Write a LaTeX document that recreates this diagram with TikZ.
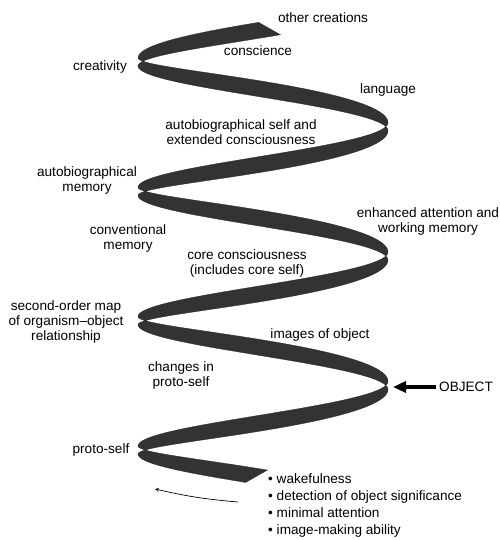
\documentclass[tikz,border=0pt]{standalone}
\usepackage{fontspec}
\setmainfont{Liberation Sans}
\usetikzlibrary{arrows.meta}
\begin{document}
\begin{tikzpicture}[>=stealth,x=1pt,y=-1pt,font=\fontsize{13.6}{15}\selectfont,
	ribbon/.style={fill=black!80,draw=black!85,line width=0.3pt},
	lbl/.style={inner sep=0pt,align=center}]
	\useasboundingbox (0,0) rectangle (499,540);
	% the spiral band, upper edge out and lower edge back
	\filldraw[ribbon] plot[domain=-92:1168,samples=420] ({263-125*cos(\x)},{450-\x/180*64.67+5*sin(\x)*(\x<1080)-(8+8*abs(sin(\x)))/2})
		-- plot[domain=1178:-82,samples=420] ({263-125*cos(\x)},{450-\x/180*64.67+5*sin(\x)*(\x<1080)+(8+8*abs(sin(\x)))/2}) -- cycle;
	\node[lbl] (creations) at (323,18) {other creations};
	\node[lbl] (conscience) at (258,51) {conscience};
	\node[lbl] (creativity) at (100,67) {creativity};
	\node[lbl] (language) at (388,90) {language};
	\node[lbl] (autoself) at (241,132) {autobiographical self and\\extended consciousness};
	\node[lbl] (automem) at (87,180) {autobiographical\\memory};
	\node[lbl] (convmem) at (128,238) {conventional\\memory};
	\node[lbl] (enhanced) at (428,221) {enhanced attention and\\working memory};
	\node[lbl] (core) at (247,263) {core consciousness\\(includes core self)};
	\node[lbl] (secondorder) at (66,322) {second-order map\\of organism–object\\relationship};
	\node[lbl] (images) at (320,335) {images of object};
	\node[lbl] (changes) at (181,375) {changes in\\proto-self};
	\node[lbl] (object) at (466,387) {OBJECT};
	\node[lbl] (protoself) at (101,450) {proto-self};
	\node[inner sep=0pt,align=left,anchor=west] (bullets) at (268,505.5)
		{• wakefulness\\[2pt] • detection of object significance\\[2pt] • minimal attention\\[2pt] • image-making ability};
	\coordinate (objtip) at (393,387);
	\coordinate (turnhead) at (155,489);
	\coordinate (turntail) at (238,502);
	\draw[line width=4pt,-{Triangle[length=13pt,width=11pt]}] ([xshift=-3pt]object.west) -- (objtip);
	\draw[->,line width=0.7pt] (turntail) to[bend left=4] (turnhead);
\end{tikzpicture}
\end{document}
